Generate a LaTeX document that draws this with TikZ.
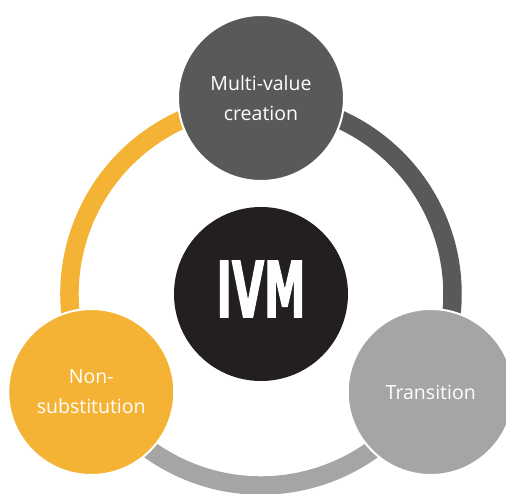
\documentclass[tikz,border=0pt]{standalone}
\usepackage{fontspec}
\setmainfont{Open Sans}
\newfontfamily\heavyfont{DejaVu Sans}[BoldFeatures={FakeBold=2.5}]
\usetikzlibrary{backgrounds}

\definecolor{stagegray}{HTML}{595959}
\definecolor{stagelight}{HTML}{A5A5A5}
\definecolor{stageyellow}{HTML}{F5B335}
\definecolor{coreblack}{HTML}{231F20}

\begin{document}
\begin{tikzpicture}[
    stage/.style={circle, draw=white, line width=2pt, minimum size=166pt, text=white, align=center, font=\fontsize{19.5}{30}\selectfont},
    core/.style={circle, fill=coreblack, minimum size=174pt, text=white, text depth=10pt, inner sep=0pt},
    band/.style={line width=18.5pt},
]
    \useasboundingbox (-261pt,-199pt) rectangle (245pt,294pt);

    \node[core] (ivm) at (0,0) {\resizebox{89pt}{56pt}{\heavyfont\bfseries IVM}};
    \node[stage, fill=stagegray] (multi) at (90:196pt) {Multi-value\\creation};
    \node[stage, fill=stagelight] (trans) at (-30:196pt) {Transition};
    \node[stage, fill=stageyellow] (nonsub) at (210:196pt) {Non-\\substitution};

    % ring pieces run behind the stage circles
    \begin{scope}[on background layer]
        \draw[band, stagegray] (ivm.center) ++(90:191.5pt) arc[start angle=90, end angle=-30, radius=191.5pt];
        \draw[band, stagelight] (ivm.center) ++(-30:191.5pt) arc[start angle=-30, end angle=-150, radius=191.5pt];
        \draw[band, stageyellow] (ivm.center) ++(210:191.5pt) arc[start angle=210, end angle=90, radius=191.5pt];
    \end{scope}
\end{tikzpicture}
\end{document}
